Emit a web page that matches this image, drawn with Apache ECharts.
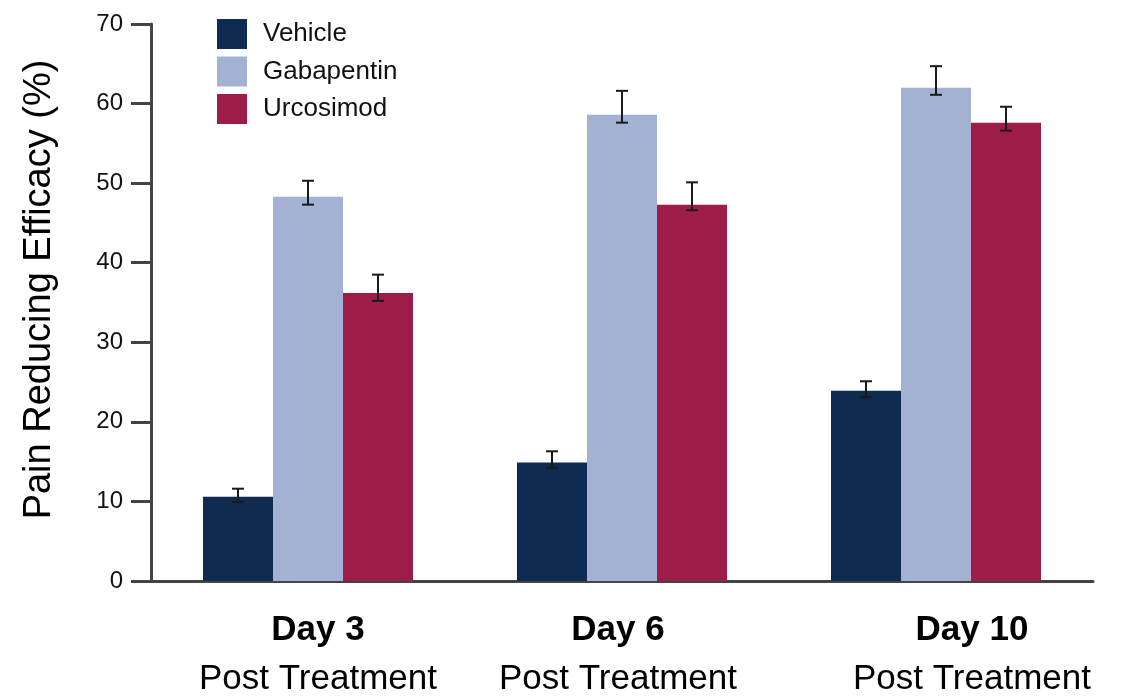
<!DOCTYPE html>
<html>
<head>
<meta charset="utf-8">
<script src="https://cdn.jsdelivr.net/npm/echarts@6/dist/echarts.min.js"></script>
<style>html,body{margin:0;padding:0;background:#fff;}#c{width:1122px;height:697px;}</style>
</head>
<body>
<div id="c"></div>
<script>
const categories = ['Day 3', 'Day 6', 'Day 10'];
const subLabel = 'Post Treatment';
const seriesNames = ['Vehicle', 'Gabapentin', 'Urcosimod'];
const vehicle = [10.6, 14.9, 23.9];
const gabapentin = [48.3, 58.6, 62.0];
const urcosimod = [36.2, 47.3, 57.6];
const vehicleErrLow = [9.9, 14.2, 23.1];
const vehicleErrHigh = [11.6, 16.3, 25.1];
const gabapentinErrLow = [47.3, 57.6, 61.1];
const gabapentinErrHigh = [50.3, 61.6, 64.7];
const urcosimodErrLow = [35.2, 46.6, 56.6];
const urcosimodErrHigh = [38.5, 50.1, 59.6];
const yTicks = [0, 10, 20, 30, 40, 50, 60, 70];

const colors = ['#0f2b52', '#a3b1d3', '#9e1c48'];
const FONT = "'Liberation Sans', Arial, Helvetica, sans-serif";
const BAR_W = 70;

const values = [vehicle, gabapentin, urcosimod];
const lows = [vehicleErrLow, gabapentinErrLow, urcosimodErrLow];
const highs = [vehicleErrHigh, gabapentinErrHigh, urcosimodErrHigh];

const chart = echarts.init(document.getElementById('c'), null, {renderer: 'canvas'});

const barSeries = seriesNames.map((name, s) => ({
  name: name,
  type: 'bar',
  data: values[s],
  barWidth: BAR_W,
  barGap: '0%',
  itemStyle: {color: colors[s]},
  z: 2
}));

const errSeries = seriesNames.map((name, s) => ({
  type: 'custom',
  name: name + ' error',
  z: 5,
  silent: true,
  encode: {x: 0, y: [1, 2]},
  data: categories.map((c, i) => [i, lows[s][i], highs[s][i]]),
  renderItem: function (params, api) {
    const ci = api.value(0);
    const lo = api.coord([ci, api.value(1)]);
    const hi = api.coord([ci, api.value(2)]);
    const x = lo[0] + (s - 1) * BAR_W;
    const cap = 6;
    const st = {stroke: '#1a1a1a', lineWidth: 2};
    return {
      type: 'group',
      children: [
        {type: 'line', shape: {x1: x, y1: hi[1], x2: x, y2: lo[1]}, style: st},
        {type: 'line', shape: {x1: x - cap, y1: hi[1], x2: x + cap, y2: hi[1]}, style: st},
        {type: 'line', shape: {x1: x - cap, y1: lo[1], x2: x + cap, y2: lo[1]}, style: st}
      ]
    };
  }
}));

const labelRich = {};
const labelPads = [[0, 0, 0, 20], [0, 8, 0, 0], [0, 0, 0, 72]];
labelPads.forEach((pad, i) => {
  labelRich['b' + i] = {fontFamily: FONT, fontSize: 35, fontWeight: 'bold', color: '#000', lineHeight: 49, padding: pad};
  labelRich['p' + i] = {fontFamily: FONT, fontSize: 35, color: '#000', lineHeight: 49, padding: pad};
});

const option = {
  animation: false,
  backgroundColor: '#fff',
  textStyle: {fontFamily: FONT},
  grid: {left: 151, right: 29, top: 24, bottom: 115, containLabel: false},
  legend: {
    data: seriesNames,
    orient: 'vertical',
    left: 212,
    top: 14,
    itemWidth: 30,
    itemHeight: 30,
    itemGap: 7.5,
    icon: 'rect',
    textStyle: {fontFamily: FONT, fontSize: 26, color: '#111', padding: [0, 0, 0, 11]}
  },
  xAxis: {
    type: 'category',
    data: categories,
    axisLine: {show: true, lineStyle: {color: '#444', width: 3}},
    axisTick: {show: false},
    axisLabel: {
      margin: 25,
      interval: 0,
      formatter: function (v, i) {
        return '{b' + i + '|' + v + '}\n{p' + i + '|' + subLabel + '}';
      },
      rich: labelRich
    },
    splitLine: {show: false}
  },
  yAxis: {
    type: 'value',
    min: 0,
    max: 70,
    interval: 10,
    name: 'Pain Reducing Efficacy (%)',
    nameLocation: 'middle',
    nameGap: 92,
    nameRotate: 90,
    nameTextStyle: {fontFamily: FONT, fontSize: 38, color: '#000', padding: [0, 0, 0, 26]},
    axisLine: {show: true, lineStyle: {color: '#444', width: 3}},
    axisTick: {show: true, inside: false, length: 20, lineStyle: {color: '#444', width: 3}},
    axisLabel: {
      margin: 28,
      fontFamily: FONT,
      fontSize: 24,
      color: '#111',
      formatter: function (v) { return yTicks.indexOf(v) >= 0 ? String(v) : ''; }
    },
    splitLine: {show: false}
  },
  series: barSeries.concat(errSeries)
};

chart.setOption(option);
</script>
</body>
</html>
